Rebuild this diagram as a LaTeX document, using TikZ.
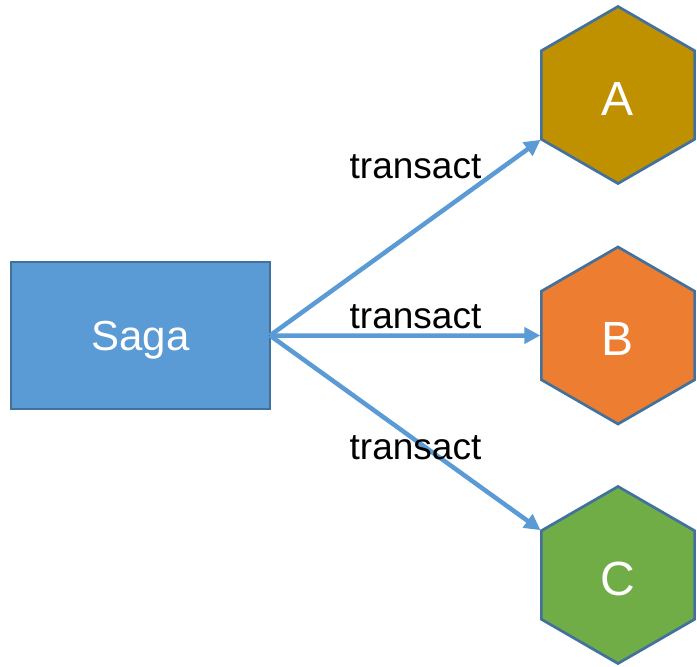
\documentclass[tikz,border=0pt]{standalone}
\usepackage{fontspec}
\setmainfont{Liberation Sans}
\usetikzlibrary{shapes.geometric,arrows.meta}
\definecolor{sagafill}{HTML}{5B9BD5}
\definecolor{edgeblue}{HTML}{41719C}
\definecolor{hexA}{HTML}{BF9000}
\definecolor{hexB}{HTML}{ED7D31}
\definecolor{hexC}{HTML}{70AD47}
\tikzset{
  sagabox/.style={draw=edgeblue, line width=2.7pt, fill=sagafill, minimum width=259pt, minimum height=147pt, inner sep=0pt, outer sep=0pt, text=white, font=\fontsize{42}{46}\selectfont, text depth=0pt},
  hexnode/.style={regular polygon, regular polygon sides=6, shape border rotate=30, draw=edgeblue, line width=2.7pt, minimum size=177pt, inner sep=0pt, outer sep=0pt, text=white, font=\fontsize{48}{52}\selectfont, text depth=0pt, text height=40pt},
  flow/.style={draw=sagafill, line width=4.5pt, -{Triangle[length=16pt,width=16pt]}, shorten >=1pt},
  lbl/.style={anchor=base, inner sep=0pt, text=black, font=\fontsize{37}{40}\selectfont}
}
\begin{document}
\begin{tikzpicture}[x=1pt,y=-1pt]
\useasboundingbox (0,0) rectangle (697,667);
\node[sagabox] (saga) at (140.5,335.5) {Saga};
\node[hexnode, fill=hexA] (A) at (618,95) {A};
\node[hexnode, fill=hexB] (B) at (618,335.5) {B};
\node[hexnode, fill=hexC] (C) at (618,575) {C};
\draw[flow] (saga.east) -- (A.210);
\draw[flow] (saga.east) -- (B.180);
\draw[flow] (saga.east) -- (C.150);
\node[lbl] (tA) at (415.5,178) {transact};
\node[lbl] (tB) at (415.5,328) {transact};
\node[lbl] (tC) at (415.5,459) {transact};
\end{tikzpicture}
\end{document}
